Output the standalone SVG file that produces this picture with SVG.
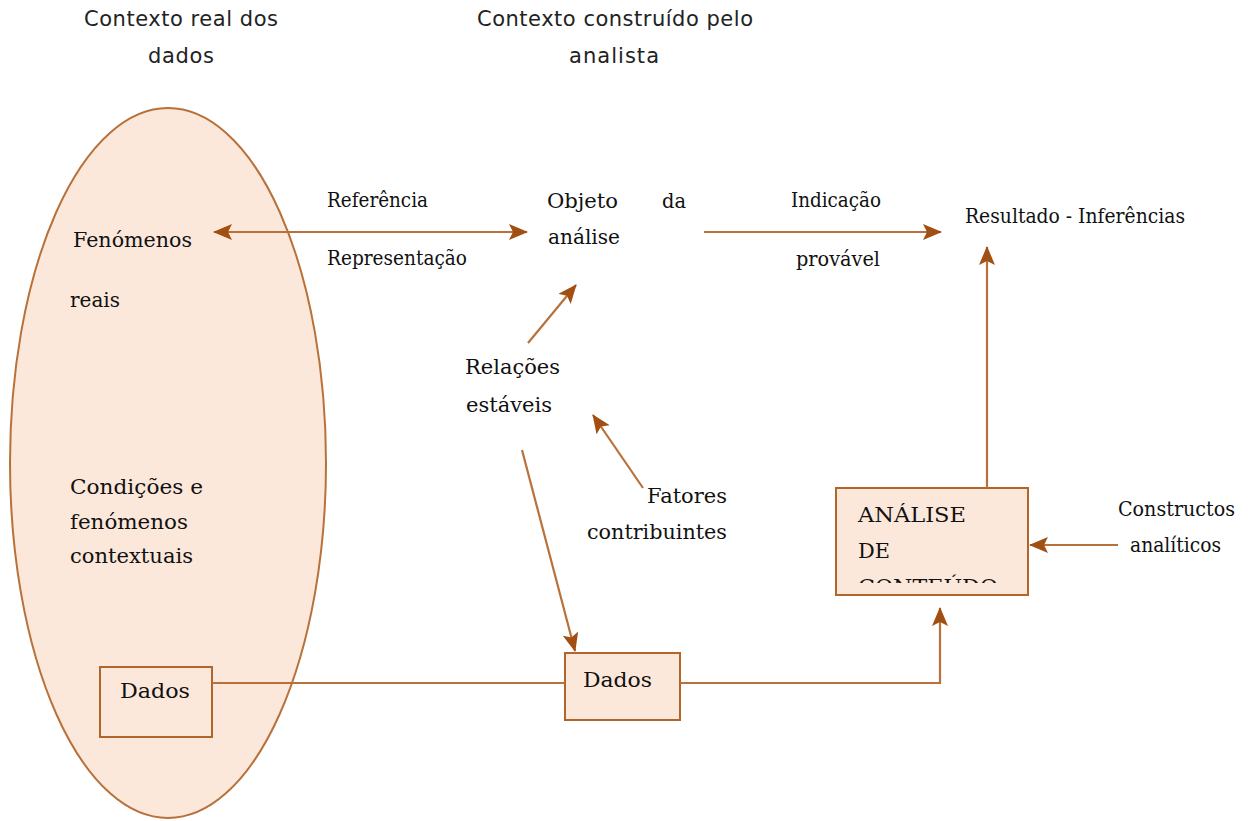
<svg xmlns="http://www.w3.org/2000/svg" width="1248" height="821" viewBox="0 0 1248 821">
<style>
.ttl{font-family:"DejaVu Sans","Liberation Sans",sans-serif;font-size:21px;fill:#222}
.sf{font-family:"DejaVu Serif","Liberation Serif",serif;font-size:20.5px;fill:#111}
.box{fill:#fce8da;stroke:#b0652a;stroke-width:2}
.ln{fill:none;stroke:#b8713a;stroke-width:2.2}
</style>
<defs>
<marker id="ah" markerUnits="userSpaceOnUse" markerWidth="19" markerHeight="16" refX="18" refY="8" orient="auto-start-reverse">
<path d="M0,0 L19,8 L0,16 L4,8 Z" fill="#a14f12"/>
</marker>
<clipPath id="clipA"><rect x="837" y="489" width="190" height="94"/></clipPath>
</defs>
<rect width="1248" height="821" fill="#fff"/>
<g id="titles">
<text class="ttl" x="84" y="26" textLength="194" lengthAdjust="spacing">Contexto real dos</text>
<text class="ttl" x="148" y="63" textLength="66" lengthAdjust="spacing">dados</text>
<text class="ttl" x="477" y="26" textLength="276" lengthAdjust="spacing">Contexto construído pelo</text>
<text class="ttl" x="569" y="63" textLength="90" lengthAdjust="spacing">analista</text>
</g>
<g id="contexto-real">
<ellipse cx="168" cy="463" rx="158" ry="355" fill="#fce8da" stroke="#b8713a" stroke-width="2"/>
<text class="sf" x="73" y="247" textLength="119" lengthAdjust="spacingAndGlyphs">Fenómenos</text>
<text class="sf" x="70" y="307" textLength="50" lengthAdjust="spacingAndGlyphs">reais</text>
<text class="sf" x="70" y="494" textLength="133" lengthAdjust="spacingAndGlyphs">Condições e</text>
<text class="sf" x="70" y="529" textLength="118" lengthAdjust="spacingAndGlyphs">fenómenos</text>
<text class="sf" x="70" y="563" textLength="123" lengthAdjust="spacingAndGlyphs">contextuais</text>
</g>
<g id="dados-real">
<rect class="box" x="100" y="667" width="112" height="70"/>
<text class="sf" x="120" y="698" textLength="70" lengthAdjust="spacingAndGlyphs">Dados</text>
</g>
<g id="dados-analista">
<rect class="box" x="565" y="653" width="115" height="67"/>
<text class="sf" x="583" y="687" textLength="69" lengthAdjust="spacingAndGlyphs">Dados</text>
</g>
<g id="analise-conteudo">
<rect class="box" x="836" y="488" width="192" height="107"/>
<g clip-path="url(#clipA)">
<text class="sf" x="858" y="522" textLength="108" lengthAdjust="spacingAndGlyphs">ANÁLISE</text>
<text class="sf" x="858" y="558" textLength="32" lengthAdjust="spacingAndGlyphs">DE</text>
<text class="sf" x="858" y="594" textLength="140" lengthAdjust="spacingAndGlyphs">CONTEÚDO</text>
</g>
</g>
<g id="objeto">
<text class="sf" x="547" y="208" textLength="71" lengthAdjust="spacingAndGlyphs">Objeto</text>
<text class="sf" x="662" y="208" textLength="24" lengthAdjust="spacingAndGlyphs">da</text>
<text class="sf" x="548" y="244" textLength="72" lengthAdjust="spacingAndGlyphs">análise</text>
</g>
<g id="resultado">
<text class="sf" x="965" y="223" textLength="220" lengthAdjust="spacingAndGlyphs">Resultado - Inferências</text>
</g>
<g id="relacoes">
<text class="sf" x="465" y="374" textLength="95" lengthAdjust="spacingAndGlyphs">Relações</text>
<text class="sf" x="466" y="412" textLength="86" lengthAdjust="spacingAndGlyphs">estáveis</text>
</g>
<g id="fatores">
<text class="sf" x="647" y="503" textLength="80" lengthAdjust="spacingAndGlyphs">Fatores</text>
<text class="sf" x="587" y="539" textLength="140" lengthAdjust="spacingAndGlyphs">contribuintes</text>
</g>
<g id="constructos">
<text class="sf" x="1118" y="516" textLength="117" lengthAdjust="spacingAndGlyphs">Constructos</text>
<text class="sf" x="1130" y="552" textLength="91" lengthAdjust="spacingAndGlyphs">analíticos</text>
</g>
<g id="labels">
<text class="sf" x="327" y="207" textLength="101" lengthAdjust="spacingAndGlyphs">Referência</text>
<text class="sf" x="327" y="265" textLength="140" lengthAdjust="spacingAndGlyphs">Representação</text>
<text class="sf" x="791" y="207" textLength="90" lengthAdjust="spacingAndGlyphs">Indicação</text>
<text class="sf" x="796" y="266" textLength="84" lengthAdjust="spacingAndGlyphs">provável</text>
</g>
<g id="connectors">
<line class="ln" x1="214" y1="232" x2="527" y2="232" marker-start="url(#ah)" marker-end="url(#ah)"/>
<line class="ln" x1="704" y1="232" x2="941" y2="232" marker-end="url(#ah)"/>
<line class="ln" x1="528" y1="343" x2="576" y2="285" marker-end="url(#ah)"/>
<line class="ln" x1="643" y1="488" x2="593" y2="415" marker-end="url(#ah)"/>
<line class="ln" x1="522" y1="450" x2="575" y2="651" marker-end="url(#ah)"/>
<line class="ln" x1="212" y1="683" x2="565" y2="683"/>
<path class="ln" d="M680,683 H940 V608" marker-end="url(#ah)"/>
<line class="ln" x1="987" y1="488" x2="987" y2="247" marker-end="url(#ah)"/>
<line class="ln" x1="1118" y1="545" x2="1030" y2="545" marker-end="url(#ah)"/>
</g>
</svg>
